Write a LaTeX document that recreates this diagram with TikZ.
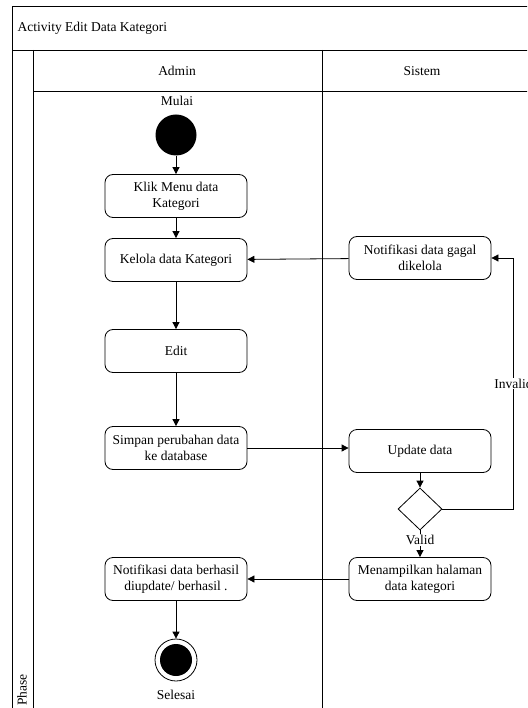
\documentclass[tikz,border=0pt]{standalone}
\usepackage{fontspec}
\setmainfont{Liberation Serif}
\usetikzlibrary{arrows.meta,shapes.geometric}
\begin{document}
\begin{tikzpicture}[x=1pt,y=-1pt,
  font=\fontsize{13.5}{16}\selectfont,
  frame/.style={draw=black, line width=0.8pt},
  act/.style={draw, line width=0.8pt, rounded corners=8pt, fill=white,
    minimum width=142pt, minimum height=43pt, align=center, inner sep=2pt},
  startnode/.style={circle, fill=black, minimum size=41pt, inner sep=0pt},
  endnode/.style={circle, draw, line width=0.8pt, fill=white, minimum size=42pt, inner sep=0pt},
  decision/.style={diamond, draw, line width=0.8pt, fill=white, minimum width=44pt, minimum height=42pt, inner sep=0pt},
  flow/.style={draw, line width=0.8pt, -{Triangle[length=7pt,width=7pt]}},
  lbl/.style={fill=white, inner sep=1pt}
]
\useasboundingbox (0,0) rectangle (527,708);
\clip (0,0) rectangle (527,708);

% swimlane frame
\draw[frame] (12,6) rectangle (560,730);
\draw[frame] (12,50) -- (560,50);
\draw[frame] (33,50) -- (33,730);
\draw[frame] (322,50) -- (322,730);
\draw[frame] (33,91) -- (560,91);
\node[anchor=west] (title) at (14,28) {Activity Edit Data Kategori};
\node (laneA) at (177,71) {Admin};
\node (laneS) at (422,71) {Sistem};
\node[rotate=90] (phase) at (22,690) {Phase};

% Admin lane
\node (mulai) at (177,101) {Mulai};
\node[startnode] (start) at (176,135) {};
\node[act] (klik) at (176,196) {Klik Menu data\\Kategori};
\node[act] (kelola) at (176,260) {Kelola data Kategori};
\node[act] (edit) at (176,351) {Edit};
\node[act] (simpan) at (176,448) {Simpan perubahan data\\ke database};
\node[act] (berhasil) at (176,579) {Notifikasi data berhasil\\diupdate/ berhasil .};
\node[endnode] (end) at (176,660) {};
\fill (end.center) circle (16pt);
\node (selesai) at (176,695) {Selesai};

% Sistem lane
\node[act] (gagal) at (420,258) {Notifikasi data gagal\\dikelola};
\node[act] (update) at (420,451) {Update data};
\node[decision] (dec) at (420,509) {};
\node[act] (tampil) at (420,579) {Menampilkan halaman\\data kategori};

% flows
\draw[flow] (start) -- (klik);
\draw[flow] (klik) -- (kelola);
\draw[flow] (kelola) -- (edit);
\draw[flow] (edit) -- (simpan);
\draw[flow] (simpan.east) -- (simpan.east -| update.west);
\draw[flow] (update) -- (dec);
\draw[flow] (dec) -- node[lbl, pos=0.36] {Valid} (tampil);
\draw[flow] (tampil) -- (berhasil);
\draw[flow] (berhasil) -- (end);
\draw[flow] (gagal) -- (kelola);
\draw[flow] (dec.east) -- ++(71,0) |- node[lbl, pos=0.25] {Invalid} (gagal.east);
\end{tikzpicture}
\end{document}
